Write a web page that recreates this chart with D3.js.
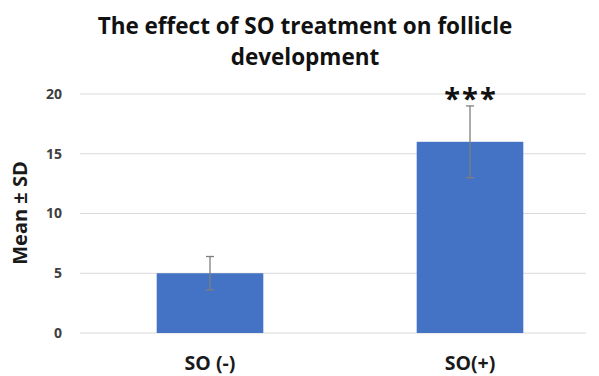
<!DOCTYPE html>
<html>
<head>
<meta charset="utf-8">
<script src="https://cdn.jsdelivr.net/npm/d3@7"></script>
<style>
  html, body { margin: 0; padding: 0; background: #fff; }
  svg { display: block; }
</style>
</head>
<body>
<svg id="chart" width="599" height="376"></svg>
<script>
// Follicle development by SO treatment group
const categories = ["SO (-)", "SO(+)"];
const means = [5, 16];
const sds = [1.4, 3.0];
const significance = ["", "***"];
const yTicks = [0, 5, 10, 15, 20];
const titleLines = ["The effect of SO treatment on follicle", "development"];
const yLabel = "Mean \u00b1 SD";

const svg = d3.select("#chart");
const plot = { left: 80, right: 600, top: 94, bottom: 333 };
const font = "'Open Sans', 'Liberation Sans', sans-serif";

const x = d3.scaleBand().domain(categories).range([plot.left, plot.right]).paddingInner(0.59).paddingOuter(0.295);
const y = d3.scaleLinear().domain([0, 20]).range([plot.bottom, plot.top]);

// Gridlines
svg.append("g")
  .selectAll("line")
  .data(yTicks)
  .join("line")
  .attr("x1", plot.left).attr("x2", 586)
  .attr("y1", d => y(d)).attr("y2", d => y(d))
  .attr("stroke", "#d9d9d9").attr("stroke-width", 1.2);

// Y axis tick labels
const yAxis = d3.axisLeft(y).tickValues(yTicks).tickSize(0).tickPadding(0);
const gy = svg.append("g").attr("transform", `translate(${62},0)`).call(yAxis);
gy.select(".domain").remove();
gy.selectAll("text")
  .attr("font-family", font).attr("font-weight", "bold")
  .attr("font-size", 14).attr("fill", "#404040");

// Bars
svg.append("g")
  .selectAll("rect")
  .data(categories)
  .join("rect")
  .attr("x", d => x(d))
  .attr("width", x.bandwidth())
  .attr("y", (d, i) => y(means[i]))
  .attr("height", (d, i) => y(0) - y(means[i]))
  .attr("fill", "#4472C4");

// Error bars
const eb = svg.append("g").attr("stroke", "#7f7f7f").attr("stroke-width", 1.3);
categories.forEach((c, i) => {
  const cx = x(c) + x.bandwidth() / 2;
  const lo = y(means[i] - sds[i]), hi = y(means[i] + sds[i]);
  eb.append("line").attr("x1", cx).attr("x2", cx).attr("y1", lo).attr("y2", hi);
  eb.append("line").attr("x1", cx - 4).attr("x2", cx + 4).attr("y1", lo).attr("y2", lo);
  eb.append("line").attr("x1", cx - 4).attr("x2", cx + 4).attr("y1", hi).attr("y2", hi);
});

// Significance markers
svg.append("g")
  .selectAll("text")
  .data(categories)
  .join("text")
  .attr("x", d => x(d) + x.bandwidth() / 2 + 1)
  .attr("y", (d, i) => y(means[i] + sds[i]) + 3)
  .attr("text-anchor", "middle")
  .attr("font-family", font).attr("font-weight", "bold")
  .attr("font-size", 29).attr("fill", "#111")
  .attr("letter-spacing", 2)
  .text((d, i) => significance[i]);

// X axis category labels
svg.append("g")
  .selectAll("text")
  .data(categories)
  .join("text")
  .attr("x", d => x(d) + x.bandwidth() / 2)
  .attr("y", 370)
  .attr("text-anchor", "middle")
  .attr("font-family", font).attr("font-weight", "bold")
  .attr("font-size", 19.5).attr("fill", "#1a1a1a")
  .text(d => d);

// Y axis title
svg.append("text")
  .attr("transform", `translate(27,213) rotate(-90)`)
  .attr("text-anchor", "middle")
  .attr("font-family", font).attr("font-weight", "bold")
  .attr("font-size", 20).attr("fill", "#1a1a1a")
  .text(yLabel);

// Chart title
svg.append("g")
  .selectAll("text")
  .data(titleLines)
  .join("text")
  .attr("x", 305)
  .attr("y", (d, i) => 34 + i * 31)
  .attr("text-anchor", "middle")
  .attr("font-family", font).attr("font-weight", "bold")
  .attr("font-size", 22.5).attr("fill", "#111")
  .text(d => d);
</script>
</body>
</html>
